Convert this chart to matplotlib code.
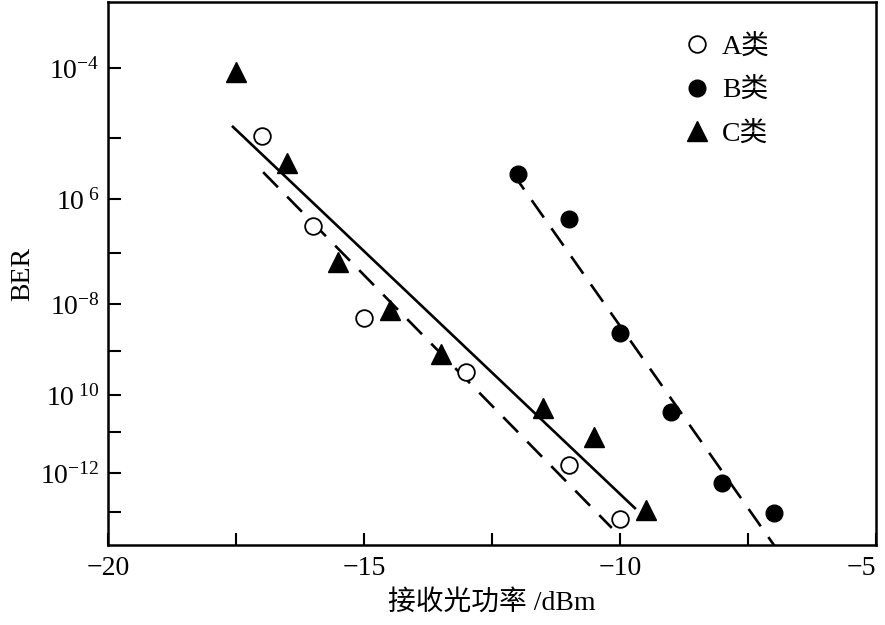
import numpy as np
import matplotlib
matplotlib.use('Agg')
import matplotlib.pyplot as plt
from matplotlib.lines import Line2D

plt.rcParams['font.family'] = ['Liberation Serif', 'Noto Sans CJK SC']
plt.rcParams['mathtext.fontset'] = 'custom'
plt.rcParams['mathtext.rm'] = 'Liberation Serif'
plt.rcParams['mathtext.it'] = 'Liberation Serif:italic'
plt.rcParams['axes.unicode_minus'] = True

# ─── DATOS ────────────────────────────────────────────────────────────────────
a_x = [-17, -16, -15, -13, -11, -10]
a_ber = [10**-4.97, 10**-6.5, 10**-8.3, 10**-9.48, 10**-11.8, 10**-13.18]

b_x = [-12, -11, -10, -9, -8, -7]
b_ber = [10**-5.59, 10**-6.37, 10**-8.62, 10**-10.46, 10**-12.26, 10**-13.03]

c_x = [-17.5, -16.5, -15.5, -14.5, -13.5, -11.5, -10.5, -9.5]
c_ber = [10**-4.06, 10**-5.41, 10**-7.18, 10**-8.13, 10**-9.07,
         10**-10.35, 10**-11.12, 10**-12.95]

# líneas de ajuste (extremos)
fit_solid_x = [-17.56, -9.71]
fit_solid_ber = [10**-4.84, 10**-12.9]
fit_a_x = [-16.97, -10.16]
fit_a_ber = [10**-5.56, 10**-13.42]
fit_b_x = [-12.11, -6.9]
fit_b_ber = [10**-5.56, 10**-14.05]

xtick_vals = [-20, -15, -10, -5]
xtick_labels = ['\u221220', '\u221215', '\u221210', '\u22125']
ytick_vals = [1e-4, 1e-6, 1e-8, 1e-10, 1e-12]
ytick_labels = [r'$10^{-4}$', r'$10^{\ 6}$', r'$10^{-8}$', r'$10^{\ 10}$', r'$10^{-12}$']
yminor_vals = [1e-5, 1e-7, 1e-9, 1e-11, 1e-13]
legend_labels = ['A类', 'B类', 'C类']

# eje vertical del original (escaneado): décadas no equiespaciadas
dec_exp = [-13.87, -13, -12, -11, -10, -9, -8, -7, -6, -5, -4, -3.12]
dec_pos = [-545, -512, -473, -432, -395, -351, -304, -253, -199, -138, -68, -2]


def fwd(v):
    v = np.asarray(v, dtype=float)
    e = np.log10(np.clip(v, 1e-300, None))
    p = np.interp(e, dec_exp, dec_pos)
    p = np.where(e < dec_exp[0], dec_pos[0] - (dec_exp[0] - e) * 38, p)
    p = np.where(e > dec_exp[-1], dec_pos[-1] + (e - dec_exp[-1]) * 75, p)
    return p


def inv(p):
    p = np.asarray(p, dtype=float)
    e = np.interp(p, dec_pos, dec_exp)
    e = np.where(p < dec_pos[0], dec_exp[0] - (dec_pos[0] - p) / 38, e)
    e = np.where(p > dec_pos[-1], dec_exp[-1] + (p - dec_pos[-1]) / 75, e)
    return 10**e


fig = plt.figure(figsize=(8.85, 6.25), dpi=100)
ax = fig.add_axes([108 / 885, 80 / 625, 768 / 885, 543 / 625])
ax.set_yscale('function', functions=(fwd, inv))

ax.plot(fit_solid_x, fit_solid_ber, color='black', linewidth=1.9)
ax.plot(fit_a_x, fit_a_ber, color='black', linewidth=1.9, dashes=(8, 5))
ax.plot(fit_b_x, fit_b_ber, color='black', linewidth=1.9, dashes=(8, 5))

ax.plot(a_x, a_ber, 'o', markersize=12, markerfacecolor='white',
        markeredgecolor='black', markeredgewidth=1.3, zorder=3)
ax.plot(b_x, b_ber, 'o', markersize=12, color='black', zorder=3)
ax.plot(c_x, c_ber, '^', markersize=15, color='black', zorder=3)

ax.set_xlim(-20, -5)
ax.set_ylim(10**-13.87, 10**-3.12)
ax.set_xticks(xtick_vals)
ax.set_xticks([-17.5, -12.5, -7.5], minor=True)
ax.set_xticklabels(xtick_labels)
ax.set_yticks(ytick_vals)
ax.set_yticklabels(ytick_labels)
ax.set_yticks(yminor_vals, minor=True)
ax.yaxis.set_minor_formatter(matplotlib.ticker.NullFormatter())

ax.tick_params(which='both', direction='in', length=9, width=1.5,
               labelsize=20, right=False, top=False)
ax.tick_params(axis='y', pad=6)
ax.tick_params(axis='x', pad=8)
for s in ax.spines.values():
    s.set_linewidth(1.8)

# el "−5" queda pegado al borde derecho, como en el original
ax.get_xticklabels()[-1].set_horizontalalignment('right')

ax.set_ylabel('BER', fontsize=20, labelpad=4)
ax.set_xlabel('接收光功率 /dBm', fontsize=20, labelpad=6)

handles = [
    Line2D([], [], linestyle='none', marker='o', markersize=12, markerfacecolor='white',
           markeredgecolor='black', markeredgewidth=1.3),
    Line2D([], [], linestyle='none', marker='o', markersize=12, color='black'),
    Line2D([], [], linestyle='none', marker='^', markersize=15, color='black'),
]
ax.legend(handles, legend_labels, loc='upper left', bbox_to_anchor=(0.749, 0.94),
          frameon=False, fontsize=20, handlelength=1.0, handletextpad=0.4,
          labelspacing=0.64, borderpad=0, borderaxespad=0)

fig.savefig('out.png', dpi=100)
